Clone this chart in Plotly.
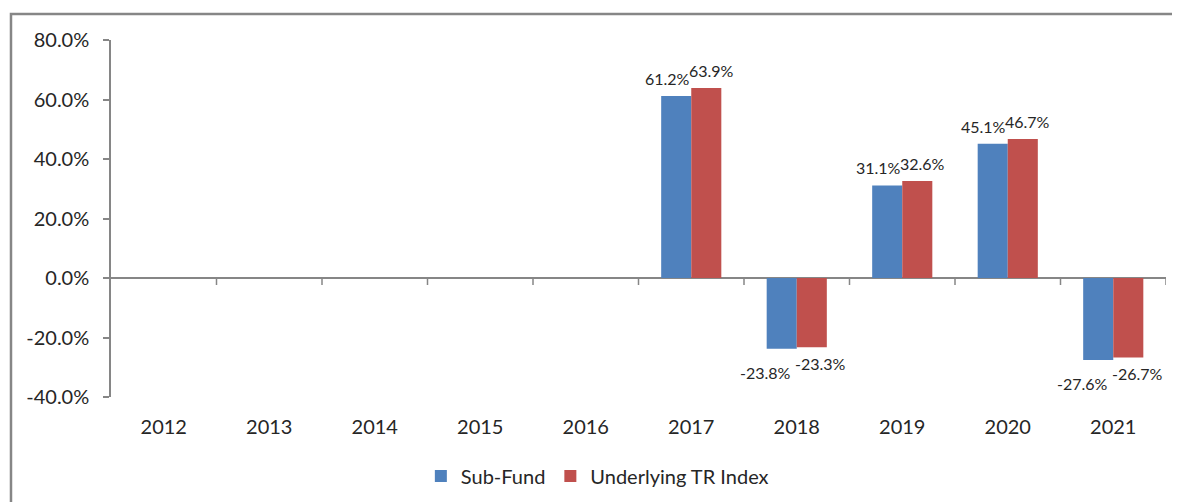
import plotly.graph_objects as go

years = ["2012", "2013", "2014", "2015", "2016", "2017", "2018", "2019", "2020", "2021"]
sub_fund = [None, None, None, None, None, 61.2, -23.8, 31.1, 45.1, -27.6]
tr_index = [None, None, None, None, None, 63.9, -23.3, 32.6, 46.7, -26.7]
y_ticks = [-40, -20, 0, 20, 40, 60, 80]
y_tick_labels = ["-40.0%", "-20.0%", "0.0%", "20.0%", "40.0%", "60.0%", "80.0%"]

FONT = "Lato"
AXIS = "#868686"
TXT = "#262626"
BLUE = "#4F81BD"
RED = "#C0504D"

fig = go.Figure()
fig.add_trace(go.Bar(x=years, y=sub_fund, name="Sub-Fund", marker_color=BLUE,
                     marker_line_width=0))
fig.add_trace(go.Bar(x=years, y=tr_index, name="Underlying TR Index", marker_color=RED,
                     marker_line_width=0))

# data labels (Excel-style placement, nudged apart to limit collisions)
annotations = []
for series, is_blue in ((sub_fund, True), (tr_index, False)):
    for i, v in enumerate(series):
        if v is None:
            continue
        if v >= 0:
            xs = -24 if is_blue else 20
            ys = 6
        else:
            xs = -31 if is_blue else 24
            ys = -12 if is_blue else -5
        annotations.append(dict(
            x=i, y=v, xref="x", yref="y", text=f"{v:.1f}%", showarrow=False,
            xshift=xs, yshift=ys,
            yanchor="bottom" if v >= 0 else "top",
            font=dict(family=FONT, size=16, color=TXT)))

shapes = []
# category boundary tick marks on the zero line
for i in range(len(years)):
    shapes.append(dict(type="line", xref="x", yref="y", x0=i + 0.5, x1=i + 0.5,
                       ysizemode="pixel", yanchor=0, y0=0, y1=-7,
                       line=dict(color=AXIS, width=1.5)))
# outer chart frame (top and left visible)
shapes.append(dict(type="rect", xref="paper", yref="paper",
                   x0=-0.0948, x1=1.2, y0=-0.5, y1=1.0728,
                   line=dict(color=AXIS, width=2.5), layer="below"))

fig.update_layout(
    width=1180, height=502,
    margin=dict(l=103, r=22, t=32, b=113, autoexpand=False),
    paper_bgcolor="white", plot_bgcolor="white",
    font=dict(family=FONT, size=20, color=TXT),
    barmode="group", bargap=0.43, bargroupgap=0,
    showlegend=True,
    legend=dict(orientation="h", x=0.461, xanchor="center", y=-0.221, yanchor="middle",
                font=dict(family=FONT, size=20, color=TXT), itemwidth=30,
                traceorder="normal"),
    shapes=shapes,
    annotations=annotations,
)
fig.update_xaxes(type="category", categoryorder="array", categoryarray=years,
                 range=[-0.5, len(years) - 0.5], automargin=False,
                 showline=False, showgrid=False, ticks="", zeroline=False,
                 ticklabelstandoff=16, tickfont=dict(family=FONT, size=20, color=TXT))
fig.update_yaxes(range=[-40, 80], tickvals=y_ticks, ticktext=y_tick_labels,
                 automargin=False,
                 showgrid=False, showline=True, linecolor=AXIS, linewidth=1.5,
                 ticks="outside", ticklen=6, tickcolor=AXIS, tickwidth=1.5,
                 zeroline=True, zerolinecolor=AXIS, zerolinewidth=1.5,
                 ticklabelstandoff=10, tickfont=dict(family=FONT, size=20, color=TXT))

fig.write_html("out.html")
